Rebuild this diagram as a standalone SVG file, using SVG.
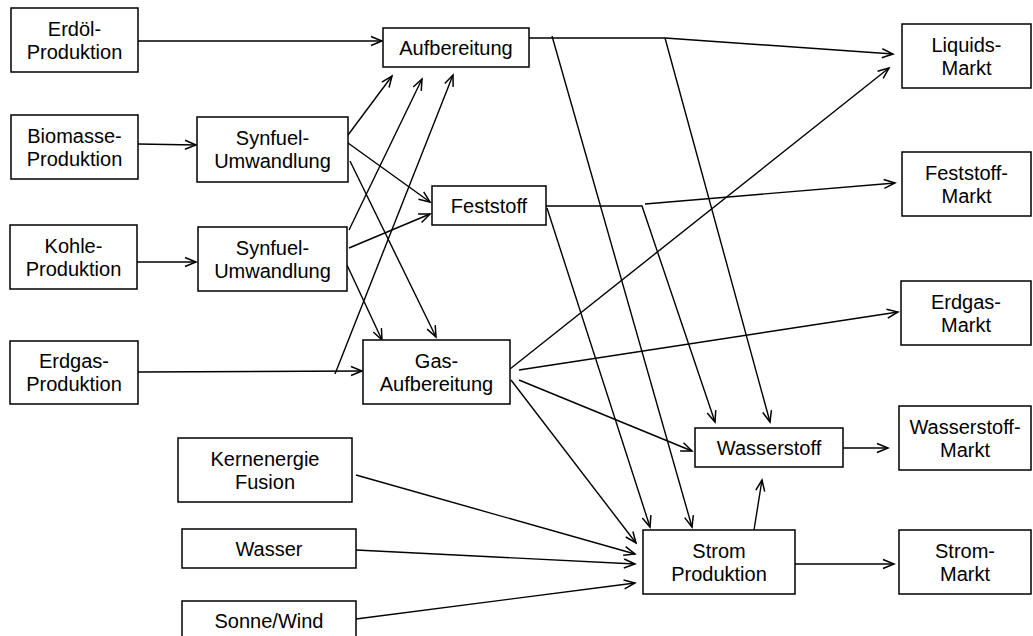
<svg xmlns="http://www.w3.org/2000/svg" width="1033" height="636" viewBox="0 0 1033 636">
  <style>
    .box { fill: #fff; stroke: #000; stroke-width: 1.5; }
    .lbl { font-family: "Liberation Sans", Arial, sans-serif; font-size: 20px; fill: #000; text-anchor: middle; }
    .edge { fill: none; stroke: #000; stroke-width: 1.4; }
    .arr { marker-end: url(#head); }
  </style>
  <defs>
    <marker id="head" markerUnits="userSpaceOnUse" markerWidth="14" markerHeight="12" viewBox="-12 -6 14 12" refX="0" refY="0" orient="auto">
      <path d="M-11,-4.5 L0,0 L-11,4.5" fill="none" stroke="#000" stroke-width="1.5"/>
    </marker>
  </defs>

  <!-- connectors -->
  <g id="connectors">
    <path class="edge arr" d="M138,41 L382,41"/>
    <path class="edge arr" d="M138,144 L196,145"/>
    <path class="edge arr" d="M137,262 L196,262"/>
    <path class="edge arr" d="M138,372 L362,371"/>

    <path class="edge arr" d="M348,135 L392,76"/>
    <path class="edge arr" d="M349,230 L422,79"/>
    <path class="edge arr" d="M335,374 L453,75"/>
    <path class="edge arr" d="M348,143 L430,202"/>
    <path class="edge arr" d="M349,248 L430,214"/>
    <path class="edge arr" d="M350,161 L436,337"/>
    <path class="edge arr" d="M347,265 L382,340"/>

    <path class="edge arr" d="M529,38 L665,38 L893,54"/>
    <path class="edge arr" d="M552,36 L692,527"/>
    <path class="edge arr" d="M665,38 L770,422"/>

    <path class="edge arr" d="M546,206 L642,206 L715,422"/>
    <path class="edge arr" d="M645,204 L895,183"/>
    <path class="edge arr" d="M547,208 L650,527"/>

    <path class="edge arr" d="M510,369 L889,68"/>
    <path class="edge arr" d="M519,370 L898,312"/>
    <path class="edge arr" d="M519,380 L692,451"/>
    <path class="edge arr" d="M511,380 L636,543"/>

    <path class="edge arr" d="M356,475 L635,554"/>
    <path class="edge arr" d="M356,550 L635,564"/>
    <path class="edge arr" d="M356,619 L635,583"/>

    <path class="edge arr" d="M754,530 L762,480"/>
    <path class="edge arr" d="M795,564 L894,564"/>
    <path class="edge arr" d="M843,448 L888,448"/>
  </g>

  <!-- sources -->
  <g id="erdoel-produktion">
    <rect class="box" x="11" y="8" width="127" height="64"/>
    <text class="lbl" x="74.5" y="35.5">Erdöl-</text>
    <text class="lbl" x="74.5" y="58.5">Produktion</text>
  </g>
  <g id="biomasse-produktion">
    <rect class="box" x="11" y="115" width="127" height="64"/>
    <text class="lbl" x="74.5" y="142.5">Biomasse-</text>
    <text class="lbl" x="74.5" y="165.5">Produktion</text>
  </g>
  <g id="kohle-produktion">
    <rect class="box" x="10" y="225" width="127" height="64"/>
    <text class="lbl" x="73.5" y="252.5">Kohle-</text>
    <text class="lbl" x="73.5" y="275.5">Produktion</text>
  </g>
  <g id="erdgas-produktion">
    <rect class="box" x="10" y="341" width="128" height="63"/>
    <text class="lbl" x="74" y="368">Erdgas-</text>
    <text class="lbl" x="74" y="391">Produktion</text>
  </g>
  <g id="kernenergie-fusion">
    <rect class="box" x="178" y="438" width="174" height="64"/>
    <text class="lbl" x="265" y="465.5">Kernenergie</text>
    <text class="lbl" x="265" y="488.5">Fusion</text>
  </g>
  <g id="wasser">
    <rect class="box" x="182" y="529" width="174" height="39"/>
    <text class="lbl" x="269" y="555.5">Wasser</text>
  </g>
  <g id="sonne-wind">
    <rect class="box" x="182" y="601" width="174" height="40"/>
    <text class="lbl" x="269" y="628">Sonne/Wind</text>
  </g>

  <!-- conversion -->
  <g id="synfuel-umwandlung-1">
    <rect class="box" x="197" y="117" width="151" height="65"/>
    <text class="lbl" x="272.5" y="145">Synfuel-</text>
    <text class="lbl" x="272.5" y="168">Umwandlung</text>
  </g>
  <g id="synfuel-umwandlung-2">
    <rect class="box" x="198" y="227" width="149" height="64"/>
    <text class="lbl" x="272.5" y="254.5">Synfuel-</text>
    <text class="lbl" x="272.5" y="277.5">Umwandlung</text>
  </g>
  <g id="aufbereitung">
    <rect class="box" x="383" y="28" width="146" height="39"/>
    <text class="lbl" x="456" y="54.5">Aufbereitung</text>
  </g>
  <g id="feststoff">
    <rect class="box" x="432" y="186" width="114" height="39"/>
    <text class="lbl" x="489" y="212.5">Feststoff</text>
  </g>
  <g id="gas-aufbereitung">
    <rect class="box" x="363" y="340" width="147" height="64"/>
    <text class="lbl" x="436.5" y="367.5">Gas-</text>
    <text class="lbl" x="436.5" y="390.5">Aufbereitung</text>
  </g>
  <g id="wasserstoff">
    <rect class="box" x="695" y="428" width="148" height="39"/>
    <text class="lbl" x="769" y="454.5">Wasserstoff</text>
  </g>
  <g id="strom-produktion">
    <rect class="box" x="643" y="530" width="152" height="64"/>
    <text class="lbl" x="719" y="557.5">Strom</text>
    <text class="lbl" x="719" y="580.5">Produktion</text>
  </g>

  <!-- markets -->
  <g id="liquids-markt">
    <rect class="box" x="902" y="24" width="129" height="64"/>
    <text class="lbl" x="966.5" y="51.5">Liquids-</text>
    <text class="lbl" x="966.5" y="74.5">Markt</text>
  </g>
  <g id="feststoff-markt">
    <rect class="box" x="902" y="152" width="129" height="64"/>
    <text class="lbl" x="966.5" y="179.5">Feststoff-</text>
    <text class="lbl" x="966.5" y="202.5">Markt</text>
  </g>
  <g id="erdgas-markt">
    <rect class="box" x="901" y="281" width="130" height="64"/>
    <text class="lbl" x="966" y="308.5">Erdgas-</text>
    <text class="lbl" x="966" y="331.5">Markt</text>
  </g>
  <g id="wasserstoff-markt">
    <rect class="box" x="899" y="406" width="132" height="64"/>
    <text class="lbl" x="965" y="433.5">Wasserstoff-</text>
    <text class="lbl" x="965" y="456.5">Markt</text>
  </g>
  <g id="strom-markt">
    <rect class="box" x="899" y="530" width="132" height="64"/>
    <text class="lbl" x="965" y="557.5">Strom-</text>
    <text class="lbl" x="965" y="580.5">Markt</text>
  </g>
</svg>
